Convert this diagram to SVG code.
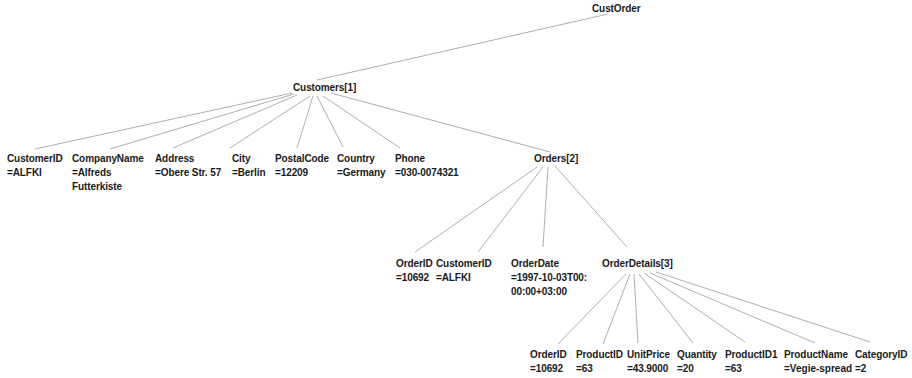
<svg xmlns="http://www.w3.org/2000/svg" width="912" height="378" viewBox="0 0 912 378">
  <style>
    .bg { fill: #ffffff; }
    .lbl { font-family: "Liberation Sans", Arial, sans-serif; font-size: 10px; font-weight: bold; letter-spacing: -0.1px; fill: #1a1a1a; }
    .edge { stroke: #9a9a9a; stroke-width: 0.8; fill: none; }
  </style>
  <rect class="bg" x="0" y="0" width="912" height="378"/>

  <!-- tree connectors -->
  <g id="connectors">
    <!-- CustOrder -> Customers[1] -->
    <line class="edge" x1="608" y1="14" x2="317" y2="80"/>
    <!-- Customers[1] -> fields -->
    <line class="edge" x1="292" y1="93" x2="35" y2="149"/>
    <line class="edge" x1="294" y1="94" x2="110" y2="149"/>
    <line class="edge" x1="297" y1="95" x2="173" y2="148"/>
    <line class="edge" x1="310" y1="96" x2="230" y2="148"/>
    <line class="edge" x1="313" y1="96" x2="297" y2="148"/>
    <line class="edge" x1="317" y1="96" x2="343" y2="147"/>
    <line class="edge" x1="323" y1="96" x2="400" y2="148"/>
    <line class="edge" x1="331" y1="93" x2="550" y2="152"/>
    <!-- Orders[2] -> fields -->
    <line class="edge" x1="537" y1="167" x2="415" y2="252"/>
    <line class="edge" x1="543" y1="167" x2="478" y2="252"/>
    <line class="edge" x1="548" y1="167" x2="543" y2="247"/>
    <line class="edge" x1="555" y1="166" x2="627" y2="247"/>
    <!-- OrderDetails[3] -> fields -->
    <line class="edge" x1="626" y1="274" x2="558" y2="344"/>
    <line class="edge" x1="630" y1="274" x2="603" y2="344"/>
    <line class="edge" x1="634" y1="274" x2="638" y2="343"/>
    <line class="edge" x1="639" y1="274" x2="693" y2="343"/>
    <line class="edge" x1="644" y1="273" x2="745" y2="342"/>
    <line class="edge" x1="650" y1="273" x2="815" y2="343"/>
    <line class="edge" x1="656" y1="272" x2="870" y2="342"/>
  </g>

  <!-- root -->
  <g id="custorder"><text class="lbl" x="592" y="12">CustOrder</text></g>
  <g id="customers"><text class="lbl" x="293" y="90.5">Customers[1]</text></g>

  <!-- customer fields -->
  <g id="c-customerid"><text class="lbl" x="7" y="162">CustomerID<tspan x="7" dy="14">=ALFKI</tspan></text></g>
  <g id="c-companyname"><text class="lbl" x="72" y="162">CompanyName<tspan x="72" dy="14">=Alfreds</tspan><tspan x="72" dy="14">Futterkiste</tspan></text></g>
  <g id="c-address"><text class="lbl" x="155" y="162">Address<tspan x="155" dy="14">=Obere Str. 57</tspan></text></g>
  <g id="c-city"><text class="lbl" x="232" y="162">City<tspan x="232" dy="14">=Berlin</tspan></text></g>
  <g id="c-postalcode"><text class="lbl" x="275" y="162">PostalCode<tspan x="275" dy="14">=12209</tspan></text></g>
  <g id="c-country"><text class="lbl" x="337" y="162">Country<tspan x="337" dy="14">=Germany</tspan></text></g>
  <g id="c-phone"><text class="lbl" x="395" y="162">Phone<tspan x="395" dy="14">=030-0074321</tspan></text></g>
  <g id="orders"><text class="lbl" x="534" y="162">Orders[2]</text></g>

  <!-- order fields -->
  <g id="o-orderid"><text class="lbl" x="396" y="267">OrderID<tspan x="396" dy="14">=10692</tspan></text></g>
  <g id="o-customerid"><text class="lbl" x="436" y="267">CustomerID<tspan x="436" dy="14">=ALFKI</tspan></text></g>
  <g id="o-orderdate"><text class="lbl" x="511" y="267">OrderDate<tspan x="511" dy="14">=1997-10-03T00:</tspan><tspan x="511" dy="14">00:00+03:00</tspan></text></g>
  <g id="orderdetails"><text class="lbl" x="602" y="267">OrderDetails[3]</text></g>

  <!-- order detail fields -->
  <g id="d-orderid"><text class="lbl" x="530" y="358">OrderID<tspan x="530" dy="14">=10692</tspan></text></g>
  <g id="d-productid"><text class="lbl" x="576" y="358">ProductID<tspan x="576" dy="14">=63</tspan></text></g>
  <g id="d-unitprice"><text class="lbl" x="627" y="358">UnitPrice<tspan x="627" dy="14">=43.9000</tspan></text></g>
  <g id="d-quantity"><text class="lbl" x="677" y="358">Quantity<tspan x="677" dy="14">=20</tspan></text></g>
  <g id="d-productid1"><text class="lbl" x="725" y="358">ProductID1<tspan x="725" dy="14">=63</tspan></text></g>
  <g id="d-productname"><text class="lbl" x="784" y="358">ProductName<tspan x="784" dy="14" textLength="68">=Vegie-spread</tspan></text></g>
  <g id="d-categoryid"><text class="lbl" x="855" y="358">CategoryID<tspan x="855" dy="14">=2</tspan></text></g>
</svg>
